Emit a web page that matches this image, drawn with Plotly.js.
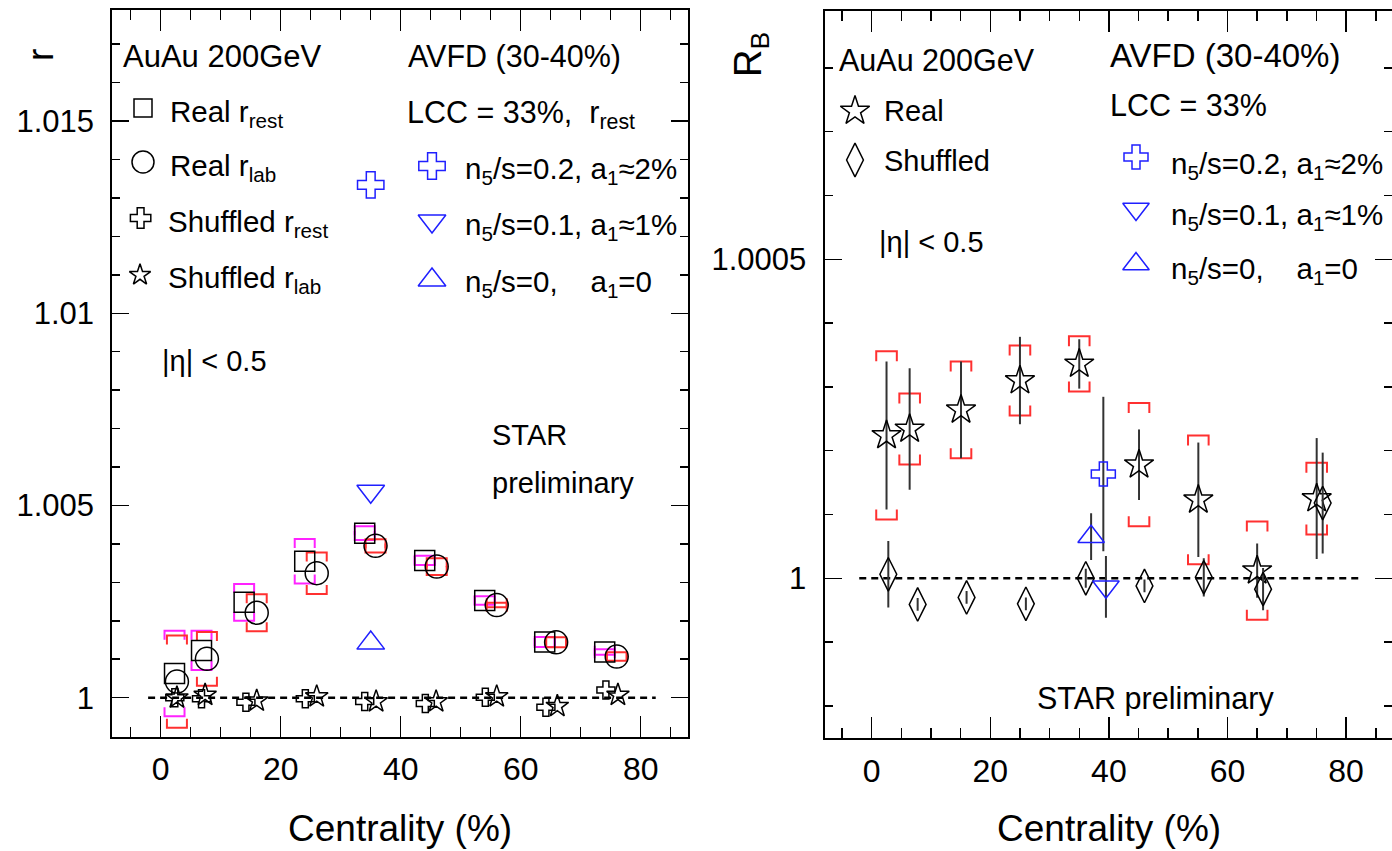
<!DOCTYPE html>
<html>
<head>
<meta charset="utf-8">
<script src="https://cdn.plot.ly/plotly-3.0.1.min.js"></script>
<style>html,body{margin:0;padding:0;background:#fff;}#plot{width:1392px;height:851px;}</style>
</head>
<body>
<div id="plot"></div>
<script>
// ---------------- DATA ----------------
// Left panel: r vs centrality
const rRestX   = [2.3, 6.8, 13.9, 24.0, 34.0, 44.0, 54.0, 64.0, 74.0];
const rRestY   = [1.00063, 1.00123, 1.00248, 1.00355, 1.00428, 1.00357, 1.00253, 1.00145, 1.00119];
const rRestSys = [0.00111, 0.00051, 0.00048, 0.00058, 0.00018, 0.00012, 0.00011, 0.00013, 0.00007];

const rLabX    = [2.7, 7.7, 16.0, 26.0, 35.8, 46.0, 56.0, 65.9, 76.0];
const rLabY    = [1.00042, 1.00101, 1.00221, 1.00324, 1.00395, 1.00341, 1.00241, 1.00144, 1.00107];
const rLabSys  = [0.00120, 0.00070, 0.00048, 0.00054, 0.00017, 0.00022, 0.00006, 0.00013, 0.00011];

const shRestX  = [2.35, 6.8, 14.2, 24.1, 34.0, 44.1, 54.1, 64.2, 74.2];
const shRestY  = [1.00000, 0.99997, 0.99988, 0.99997, 0.99990, 0.99985, 1.00001, 0.99975, 1.00020];
const shLabX   = [2.7, 7.4, 16.0, 26.0, 35.9, 45.9, 56.0, 66.1, 76.2];
const shLabY   = [1.00000, 1.00007, 0.99992, 1.00003, 0.99990, 0.99990, 1.00003, 0.99978, 1.00007];

// AVFD model points (30-40%), left panel
const avfdLeftX   = [35.0];
const avfd02LeftY = [1.01334];
const avfd01LeftY = [1.00537];
const avfd00LeftY = [1.00142];

// Right panel: R_B vs centrality
const realX    = [2.5, 6.4, 15.06, 25.0, 35.0, 45.08, 55.08, 65.0, 75.04];
const realY    = [1.000224, 1.000234, 1.000264, 1.000310, 1.000336, 1.000178, 1.000123, 1.000012, 1.000125];
const realStat = [0.000116, 0.0000953, 0.0000757, 0.0000685, 0.0000387, 0.0000553, 0.0000898, 0.0000426, 0.0000948];
const realSys  = [0.000132, 0.0000556, 0.0000757, 0.0000549, 0.0000433, 0.0000966, 0.000101, 0.0000771, 0.0000562];

const shufX    = [2.8, 7.75, 16.0, 26.0, 36.1, 46.0, 56.0, 66.0, 76.05];
const shufY    = [1.0000063, 0.999959, 0.99997, 0.99996, 1.0000, 0.999988, 1.0000016, 0.999983, 1.000118];
const shufStat = [0.000052, 0.00001, 0.00001, 0.00001, 0.000015, 0.00001, 0.00003, 0.000033, 0.000079];

const avfd02RightX = [39.06], avfd02RightY = [1.0001635], avfd02RightE = [0.000121];
const avfd01RightX = [39.5],  avfd01RightY = [0.9999867], avfd01RightE = [0.0000484];
const avfd00RightX = [37.0],  avfd00RightY = [1.0000652], avfd00RightE = [0.0000366];

// reference line y = 1
const refLineX = [-2.1, 82.5];
const refLineY = [1, 1];

// tick labels
const leftYTicks  = [1, 1.005, 1.01, 1.015];
const leftYText   = ['1', '1.005', '1.01', '1.015'];
const rightYTicks = [1, 1.0005];
const rightYText  = ['1', '1.0005'];
const xTicks      = [0, 20, 40, 60, 80];
const xText       = ['0', '20', '40', '60', '80'];

// ---------------- LAYOUT / STYLE ----------------
const W = 1392, H = 851;
const FONT = 'Liberation Sans, Arial, Helvetica, sans-serif';
// plot frames (pixels)
const L = {x0: 112.3, x1: 688, y0: 10, y1: 736.7, xr: [-8.07, 87.88], yr: [0.998985, 1.01789]};
const R = {x0: 824.5, x1: 1392, y0: 10.7, y1: 738.3, xr: [-7.96, 87.74], yr: [0.9997492, 1.0008897]};

function pxPerX(p){ return (p.x1 - p.x0) / (p.xr[1] - p.xr[0]); }
function pxPerY(p){ return (p.y1 - p.y0) / (p.yr[1] - p.yr[0]); }

function brackets(xs, ys, sys, p, halfWpx, legPx){
  const hw = halfWpx / pxPerX(p), leg = legPx / pxPerY(p);
  const X = [], Y = [];
  xs.forEach((x, i) => {
    const t = ys[i] + sys[i], b = ys[i] - sys[i];
    X.push(x-hw, x-hw, x+hw, x+hw, null, x-hw, x-hw, x+hw, x+hw, null);
    Y.push(t-leg, t, t, t-leg, null, b+leg, b, b, b+leg, null);
  });
  return {X, Y};
}

const BLUE = '#1f1fff', MAG = '#ff22ff', RED = '#ff3030', ERRC = '#333333';

const traces = [];
function line(x, y, xa, ya, color, width, dash){
  traces.push({type:'scatter', mode:'lines', x, y, xaxis:xa, yaxis:ya,
    line:{color, width, dash: dash || 'solid'}, hoverinfo:'skip', showlegend:false, connectgaps:false});
}
function pts(x, y, xa, ya, symbol, size, color, err){
  const t = {type:'scatter', mode:'markers', x, y, xaxis:xa, yaxis:ya,
    marker:{symbol, size, color, line:{color, width:1.5}}, hoverinfo:'skip', showlegend:false, cliponaxis:false};
  if (err) t.error_y = {type:'data', array: err, visible:true, width:0, thickness:2, color:ERRC};
  traces.push(t);
}

// left panel
line(refLineX, refLineY, 'x', 'y', '#000', 2.5, '7px,5px');
let bk = brackets(rRestX, rRestY, rRestSys, L, 10, 9);
line(bk.X, bk.Y, 'x', 'y', MAG, 2);
bk = brackets(rLabX, rLabY, rLabSys, L, 10, 9);
line(bk.X, bk.Y, 'x', 'y', RED, 2);
pts(rRestX, rRestY, 'x', 'y', 'square-open', 20, '#000');
pts(rLabX, rLabY, 'x', 'y', 'circle-open', 23, '#000');
pts(shRestX, shRestY, 'x', 'y', 'cross-open', 15, '#000');
pts(shLabX, shLabY, 'x', 'y', 'star-open', 17, '#000');
pts(avfdLeftX, avfd02LeftY, 'x', 'y', 'cross-open', 22, BLUE);
pts(avfdLeftX, avfd01LeftY, 'x', 'y', 'triangle-down-open', 24, BLUE);
pts(avfdLeftX, avfd00LeftY, 'x', 'y', 'triangle-up-open', 24, BLUE);

// right panel
line(refLineX, refLineY, 'x2', 'y2', '#000', 2.5, '7px,5px');
bk = brackets(realX, realY, realSys, R, 10.3, 10);
line(bk.X, bk.Y, 'x2', 'y2', RED, 2);
pts(realX, realY, 'x2', 'y2', 'star-open', 22, '#000', realStat);
pts(shufX, shufY, 'x2', 'y2', 'diamond-tall-open', 24, '#000', shufStat);
pts(avfd02RightX, avfd02RightY, 'x2', 'y2', 'cross-open', 20, BLUE, avfd02RightE);
pts(avfd01RightX, avfd01RightY, 'x2', 'y2', 'triangle-down-open', 23, BLUE, avfd01RightE);
pts(avfd00RightX, avfd00RightY, 'x2', 'y2', 'triangle-up-open', 23, BLUE, avfd00RightE);

// legend keys on a full-page pixel overlay
const legendKeys = [
  {x:143, y:108, s:'square-open', z:18, c:'#000'},
  {x:143, y:162, s:'circle-open', z:22, c:'#000'},
  {x:140.6, y:218, s:'cross-open', z:17, c:'#000'},
  {x:140, y:275, s:'star-open', z:16, c:'#000'},
  {x:432, y:166, s:'cross-open', z:22, c:BLUE},
  {x:432, y:221, s:'triangle-down-open', z:24, c:BLUE},
  {x:432, y:280, s:'triangle-up-open', z:24, c:BLUE},
  {x:855, y:111, s:'star-open', z:22, c:'#000'},
  {x:855, y:160, s:'diamond-tall-open', z:24, c:'#000'},
  {x:1136, y:157, s:'cross-open', z:20, c:BLUE},
  {x:1136, y:209, s:'triangle-down-open', z:23, c:BLUE},
  {x:1136, y:264, s:'triangle-up-open', z:23, c:BLUE},
];
legendKeys.forEach(k => {
  traces.push({type:'scatter', mode:'markers', x:[k.x], y:[k.y], xaxis:'x3', yaxis:'y3',
    marker:{symbol:k.s, size:k.z, color:k.c, line:{color:k.c, width:1.5}}, hoverinfo:'skip', showlegend:false, cliponaxis:false});
});

// text
const annotations = [];
function ann(text, px, py, size, opt){
  opt = opt || {};
  annotations.push({text, xref:'paper', yref:'paper', x: px / W, y: 1 - py / H,
    xanchor: opt.xa || 'left', yanchor: opt.ya || 'middle', showarrow:false,
    font:{family:FONT, size, color:'#000'}, textangle: opt.rot || 0});
}
const NB = '\u00a0';
// left
ann('r', 40, 55, 37, {xa:'center', rot:-90});
ann('AuAu 200GeV', 121.4, 57, 31);
ann('Real r<sub>rest</sub>', 168, 113, 29.5);
ann('Real r<sub>lab</sub>', 168, 167, 29.5);
ann('Shuffled r<sub>rest</sub>', 166, 223, 29.5);
ann('Shuffled r<sub>lab</sub>', 166, 279, 29.5);
ann('AVFD (30-40%)', 406, 57, 30.5);
ann('LCC = 33%,' + NB + NB + 'r<sub>rest</sub>', 405, 115, 30.5);
ann('n<sub>5</sub>/s=0.2, a<sub>1</sub>\u22482%', 463, 170, 29.5);
ann('n<sub>5</sub>/s=0.1, a<sub>1</sub>\u22481%', 463, 227, 29.5);
ann('n<sub>5</sub>/s=0,' + NB+NB+NB + ' a<sub>1</sub>=0', 463, 283, 29.5);
ann('|\u03b7| < 0.5', 160, 361, 29);
ann('STAR', 490, 435, 29);
ann('preliminary', 490, 483, 29);
ann('Centrality (%)', 400, 828, 37, {xa:'center'});
// right
ann('R<sub>B</sub>', 751, 55, 38, {xa:'center', rot:-90});
ann('AuAu 200GeV', 837, 60, 30.5);
ann('Real', 882, 111, 29);
ann('Shuffled', 882, 161, 29);
ann('|\u03b7| < 0.5', 876.5, 242, 29);
ann('AVFD (30-40%)', 1108, 55, 33);
ann('LCC = 33%', 1108, 105, 30.5);
ann('n<sub>5</sub>/s=0.2, a<sub>1</sub>\u22482%', 1169, 165, 29.5);
ann('n<sub>5</sub>/s=0.1, a<sub>1</sub>\u22481%', 1169, 217, 29.5);
ann('n<sub>5</sub>/s=0,' + NB+NB+NB + ' a<sub>1</sub>=0', 1169, 270, 29.5);
ann('STAR preliminary', 1035, 698, 30.5);
ann('Centrality (%)', 1108.6, 828, 37, {xa:'center'});

function xAxis(p, anchor){
  return {domain:[p.x0 / W, p.x1 / W], range:p.xr, anchor, showgrid:false, zeroline:false,
    showline:true, linecolor:'#000', linewidth:2, mirror:'allticks',
    ticks:'inside', ticklen:21, tickwidth:1.5, tickcolor:'#000',
    tickmode:'array', tickvals:xTicks, ticktext:xText,
    tickfont:{family:FONT, size:32, color:'#000'}, ticklabelstandoff:3,
    minor:{tickmode:'linear', tick0:0, dtick:5, ticks:'inside', ticklen:10, tickwidth:1.5, tickcolor:'#000', showgrid:false},
    fixedrange:true};
}
function yAxis(p, anchor, tv, tt, mdt){
  return {domain:[1 - p.y1 / H, 1 - p.y0 / H], range:p.yr, anchor, showgrid:false, zeroline:false,
    showline:true, linecolor:'#000', linewidth:2, mirror:'allticks',
    ticks:'inside', ticklen:17, tickwidth:1.5, tickcolor:'#000',
    tickmode:'array', tickvals:tv, ticktext:tt,
    tickfont:{family:FONT, size:31, color:'#000'}, ticklabelstandoff:10,
    minor:{tickmode:'linear', tick0:1, dtick:mdt, ticks:'inside', ticklen:8, tickwidth:1.5, tickcolor:'#000', showgrid:false},
    fixedrange:true};
}

const layout = {
  width:W, height:H, margin:{l:0, r:0, t:0, b:0}, paper_bgcolor:'#fff', plot_bgcolor:'rgba(0,0,0,0)',
  showlegend:false, font:{family:FONT, color:'#000'},
  xaxis: xAxis(L, 'y'), yaxis: yAxis(L, 'x', leftYTicks, leftYText, 0.001),
  xaxis2: xAxis(R, 'y2'), yaxis2: yAxis(R, 'x2', rightYTicks, rightYText, 0.0001),
  xaxis3: {domain:[0,1], range:[0,W], visible:false, anchor:'y3', fixedrange:true},
  yaxis3: {domain:[0,1], range:[H,0], visible:false, anchor:'x3', fixedrange:true},
  annotations
};

Plotly.newPlot('plot', traces, layout, {staticPlot:true, displayModeBar:false});
</script>
</body>
</html>
